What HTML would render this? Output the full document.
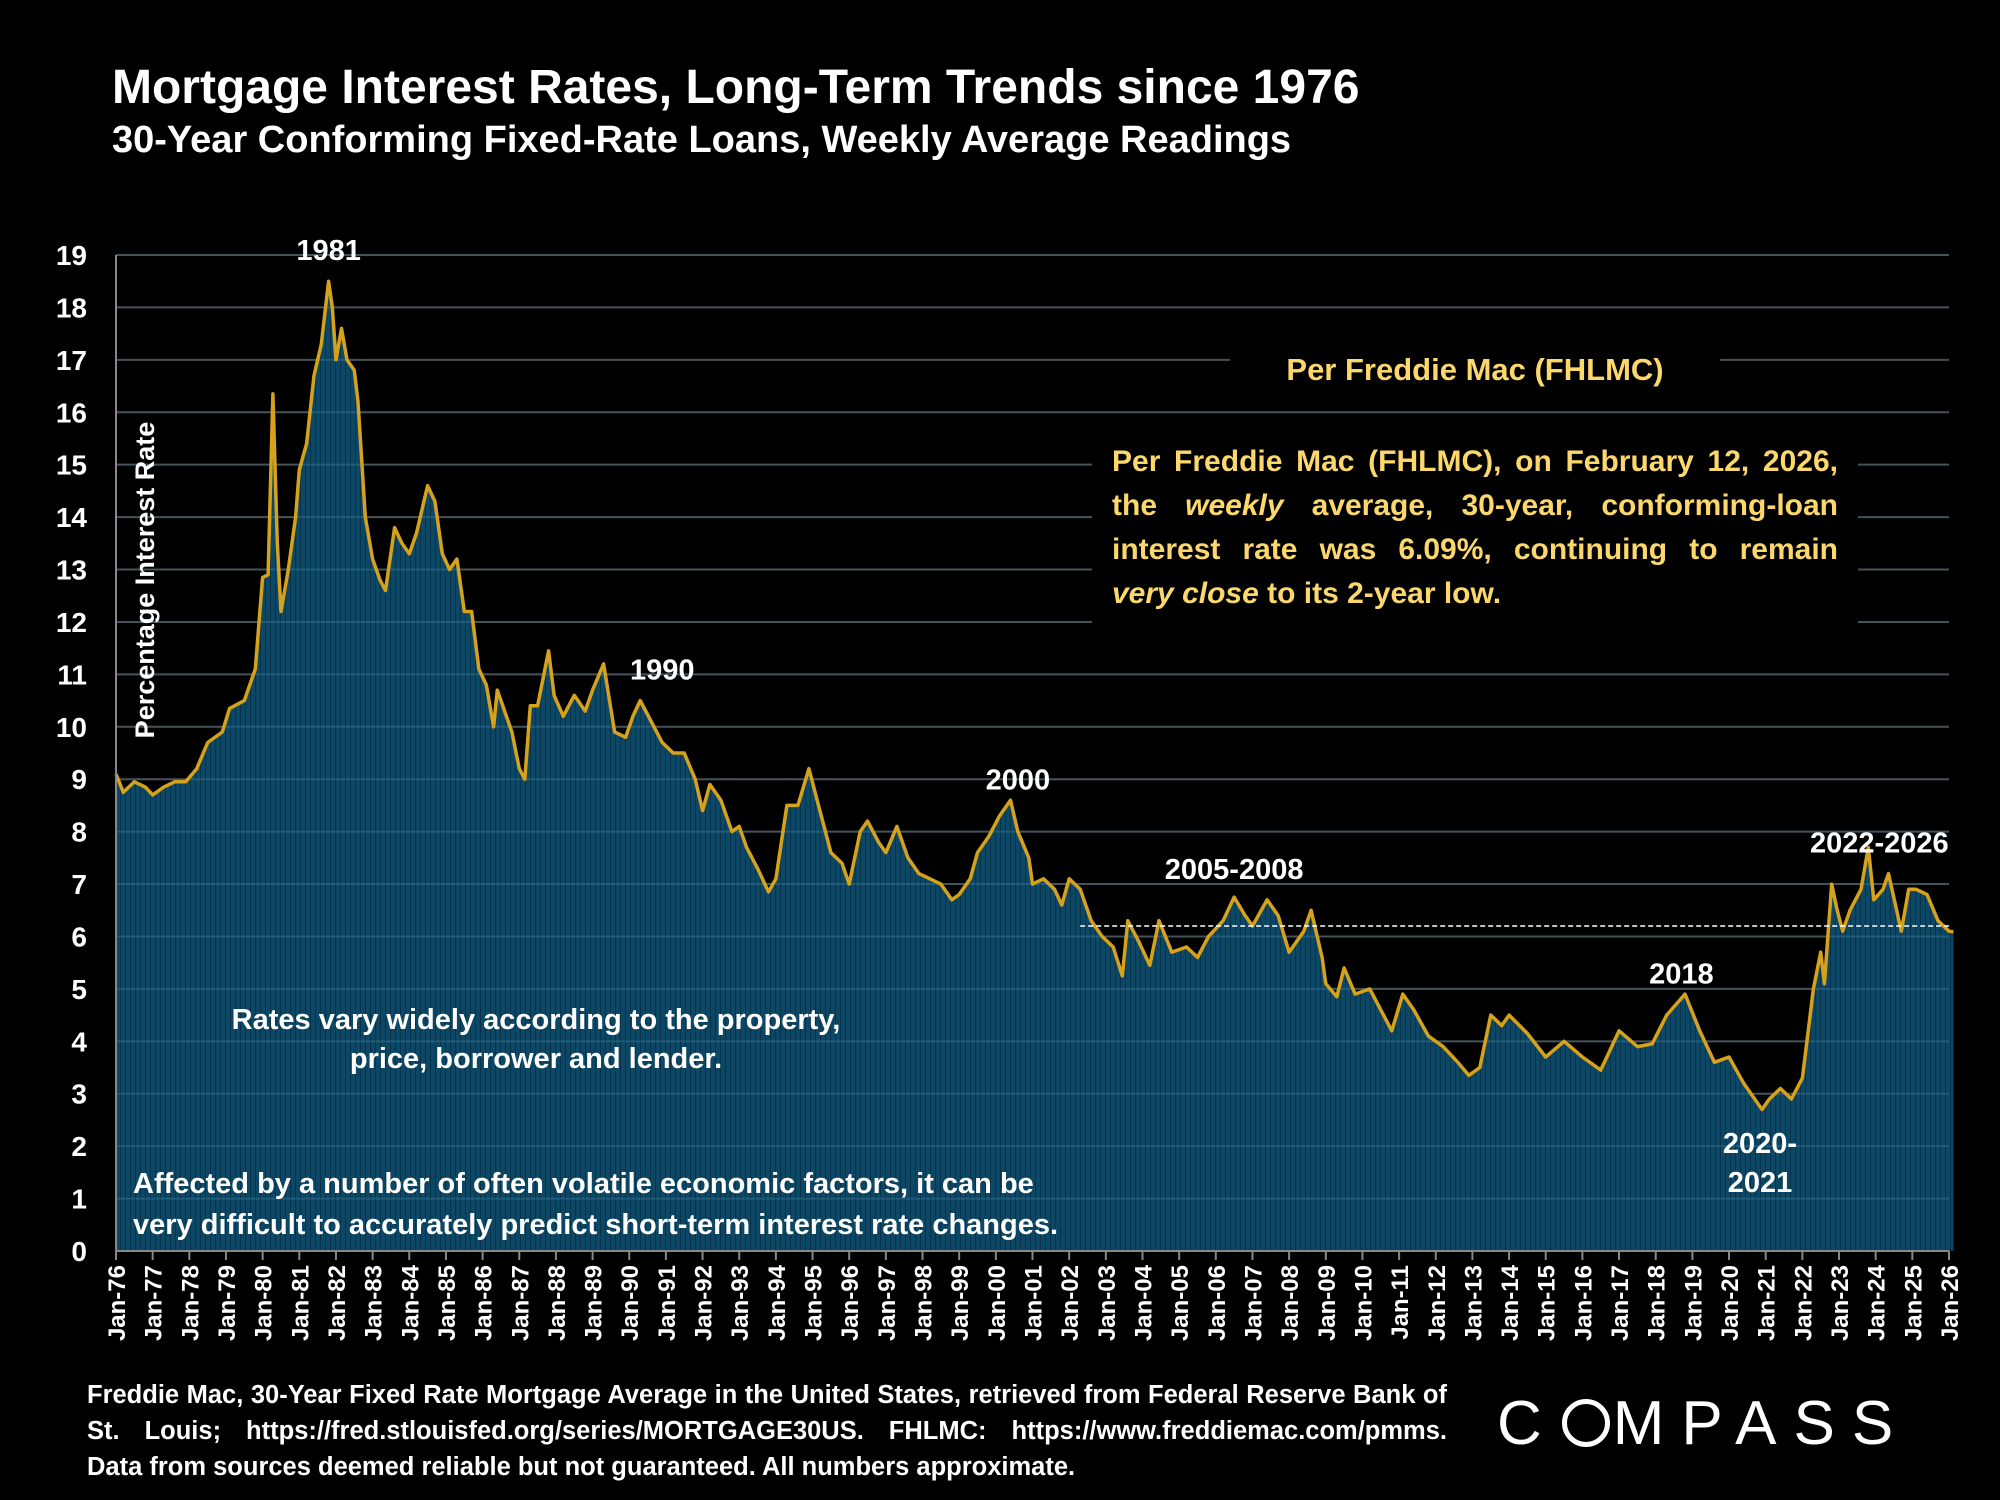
<!DOCTYPE html>
<html><head><meta charset="utf-8">
<style>
html,body{margin:0;padding:0;background:#000;}
body{width:2000px;height:1500px;overflow:hidden;position:relative;font-family:"Liberation Sans",sans-serif;}
.t{position:absolute;color:#fff;font-weight:bold;white-space:nowrap;}
.j{text-align:justify;text-align-last:justify;white-space:normal;}
#para{position:absolute;left:1112px;top:440px;width:726px;color:#fcd86c;font-weight:bold;font-size:30px;line-height:44px;}
#footer{position:absolute;left:87px;top:1377px;width:1360px;color:#fff;font-weight:bold;font-size:25.5px;line-height:36px;}
</style></head>
<body>
<div class="t" style="left:112px;top:60px;font-size:48px;">Mortgage Interest Rates, Long-Term Trends since 1976</div>
<div class="t" style="left:112px;top:119px;font-size:38px;">30-Year Conforming Fixed-Rate Loans, Weekly Average Readings</div>

<svg id="chart" width="2000" height="1500" style="position:absolute;left:0;top:0" xmlns="http://www.w3.org/2000/svg">
<defs>
<pattern id="stripes" width="5" height="10" patternUnits="userSpaceOnUse">
<rect width="5" height="10" fill="#0c4865"/>
<rect width="1" height="10" fill="#07324a"/>
</pattern>
</defs>
<g id="grid"></g>
<g id="area"></g>
<g id="grid2"></g>
<g id="axes"></g>
</svg>

<div style="position:absolute;left:1230px;top:345px;width:490px;height:55px;background:#000;"></div>
<div class="t" style="left:1250px;top:352px;width:450px;text-align:center;font-size:31px;color:#fcd86c;">Per Freddie Mac (FHLMC)</div>
<div style="position:absolute;left:1092px;top:430px;width:766px;height:195px;background:#000;"></div>
<div id="para">
<div class="j">Per Freddie Mac (FHLMC), on February 12, 2026,</div>
<div class="j">the <i>weekly</i> average, 30-year, conforming-loan</div>
<div class="j">interest rate was 6.09%, continuing to remain</div>
<div><i>very close</i> to its 2-year low.</div>
</div>

<div class="t" style="left:136px;top:1001px;width:800px;text-align:center;font-size:29px;line-height:39px;">Rates vary widely according to the property,<br>price, borrower and lender.</div>
<div class="t" style="left:133px;top:1164px;font-size:29px;line-height:41px;">Affected by a number of often volatile economic factors, it can be<br>very difficult to accurately predict short-term interest rate changes.</div>

<div id="footer">
<div class="j">Freddie Mac, 30-Year Fixed Rate Mortgage Average in the United States, retrieved from Federal Reserve Bank of</div>
<div class="j">St. Louis; https://fred.stlouisfed.org/series/MORTGAGE30US. FHLMC: https://www.freddiemac.com/pmms.</div>
<div>Data from sources deemed reliable but not guaranteed. All numbers approximate.</div>
</div>
<div class="t" style="left:1497px;top:1388px;font-size:62px;font-weight:normal;letter-spacing:17px;">C<span style="display:inline-block;width:48px;height:48px;border:5px solid #fff;border-radius:50%;box-sizing:border-box;position:relative;top:3px;margin:0 3px;"></span>MPASS</div>

<script>
const dates=[1976.0,1976.2,1976.5,1976.8,1977.0,1977.3,1977.6,1977.9,1978.2,1978.5,1978.9,1979.1,1979.5,1979.8,1980.0,1980.15,1980.28,1980.4,1980.5,1980.7,1980.9,1981.0,1981.2,1981.4,1981.6,1981.8,1981.9,1982.0,1982.15,1982.3,1982.5,1982.6,1982.8,1983.0,1983.2,1983.35,1983.6,1983.8,1984.0,1984.2,1984.5,1984.7,1984.9,1985.1,1985.3,1985.5,1985.7,1985.9,1986.1,1986.3,1986.4,1986.6,1986.8,1987.0,1987.15,1987.3,1987.5,1987.8,1987.95,1988.2,1988.5,1988.8,1989.0,1989.3,1989.6,1989.9,1990.1,1990.3,1990.6,1990.9,1991.2,1991.5,1991.8,1992.0,1992.2,1992.5,1992.8,1993.0,1993.2,1993.5,1993.8,1994.0,1994.3,1994.6,1994.9,1995.2,1995.5,1995.8,1996.0,1996.3,1996.5,1996.8,1997.0,1997.3,1997.6,1997.9,1998.2,1998.5,1998.8,1999.0,1999.3,1999.5,1999.8,2000.1,2000.4,2000.6,2000.9,2001.0,2001.3,2001.6,2001.8,2002.0,2002.3,2002.6,2002.9,2003.2,2003.45,2003.6,2003.9,2004.2,2004.45,2004.8,2005.2,2005.5,2005.8,2006.2,2006.5,2006.8,2007.0,2007.4,2007.7,2008.0,2008.4,2008.6,2008.9,2009.0,2009.3,2009.5,2009.8,2010.2,2010.5,2010.8,2011.1,2011.4,2011.8,2012.2,2012.6,2012.9,2013.2,2013.5,2013.8,2014.0,2014.5,2015.0,2015.5,2016.0,2016.5,2017.0,2017.5,2017.9,2018.3,2018.8,2019.2,2019.6,2020.0,2020.4,2020.9,2021.1,2021.4,2021.7,2022.0,2022.3,2022.5,2022.6,2022.8,2022.95,2023.1,2023.3,2023.6,2023.8,2023.95,2024.2,2024.35,2024.7,2024.9,2025.1,2025.4,2025.7,2026.0,2026.12];
const rates=[9.1,8.75,8.95,8.85,8.7,8.85,8.95,8.95,9.2,9.7,9.9,10.35,10.5,11.1,12.85,12.9,16.35,13.5,12.2,13.0,14.0,14.9,15.4,16.7,17.3,18.5,18.0,17.0,17.6,17.0,16.8,16.2,14.0,13.2,12.8,12.6,13.8,13.5,13.3,13.7,14.6,14.3,13.3,13.0,13.2,12.2,12.2,11.1,10.8,10.0,10.7,10.3,9.9,9.2,9.0,10.4,10.4,11.45,10.6,10.2,10.6,10.3,10.7,11.2,9.9,9.8,10.2,10.5,10.1,9.7,9.5,9.5,9.0,8.4,8.9,8.6,8.0,8.1,7.7,7.3,6.85,7.1,8.5,8.5,9.2,8.4,7.6,7.4,7.0,8.0,8.2,7.8,7.6,8.1,7.5,7.2,7.1,7.0,6.7,6.8,7.1,7.6,7.9,8.3,8.6,8.0,7.5,7.0,7.1,6.9,6.6,7.1,6.9,6.3,6.0,5.8,5.25,6.3,5.9,5.45,6.3,5.7,5.8,5.6,6.0,6.3,6.75,6.4,6.2,6.7,6.4,5.7,6.1,6.5,5.6,5.1,4.85,5.4,4.9,5.0,4.6,4.2,4.9,4.6,4.1,3.9,3.6,3.35,3.5,4.5,4.3,4.5,4.15,3.7,4.0,3.7,3.45,4.2,3.9,3.95,4.5,4.9,4.2,3.6,3.7,3.2,2.7,2.9,3.1,2.9,3.3,5.0,5.7,5.1,7.0,6.5,6.1,6.5,6.9,7.7,6.7,6.9,7.2,6.1,6.9,6.9,6.8,6.3,6.1,6.09];
const yTicks=[0,1,2,3,4,5,6,7,8,9,10,11,12,13,14,15,16,17,18,19];
const xTickYears=[];for(let y=1976;y<=2026;y++)xTickYears.push(y);
const annotations=[["1981",1981.8,18.9],["1990",1990.9,10.9],["2000",2000.6,8.8],["2005-2008",2006.5,7.1],["2018",2018.7,5.1],["2022-2026",2024.1,7.6]];
const refRate=6.2;
const refStart=2002.3;

const NS="http://www.w3.org/2000/svg";
const X0=116,X1=1949,Y0=1251,Y19=255;
const xs=y=>X0+(y-1976)/(2026-1976)*(X1-X0);
const ys=v=>Y0-v/19*(Y0-Y19);
function mk(tag,attrs,parent){const e=document.createElementNS(NS,tag);for(const k in attrs)e.setAttribute(k,attrs[k]);parent.appendChild(e);return e;}
const grid=document.getElementById('grid'),grid2=document.getElementById('grid2'),area=document.getElementById('area'),axes=document.getElementById('axes');

yTicks.forEach(v=>{
  if(v>0){const g=mk('line',{x1:X0,x2:X1,y1:ys(v),y2:ys(v),stroke:'#3a3a3a','stroke-width':2},grid);
  
  
  const g2=mk('line',{x1:X0,x2:X1,y1:ys(v),y2:ys(v),stroke:'#5fa0c0','stroke-opacity':0.25,'stroke-width':2},grid2);
  
  }
  const t=mk('text',{x:87,y:ys(v)+10,'text-anchor':'end',fill:'#fff','font-size':28,'font-weight':'bold','font-family':'Liberation Sans, sans-serif'},axes);
  t.textContent=v;
  
  
});

let d='M'+xs(dates[0])+','+Y0;
dates.forEach((dt,i)=>{d+=' L'+xs(dt).toFixed(1)+','+ys(rates[i]).toFixed(1);});
d+=' L'+xs(dates[dates.length-1])+','+Y0+' Z';
const ar=mk('path',{d:d,fill:'url(#stripes)'},area);


let ld='';
dates.forEach((dt,i)=>{ld+=(i?' L':'M')+xs(dt).toFixed(1)+','+ys(rates[i]).toFixed(1);});
const ln=mk('path',{d:ld,fill:'none',stroke:'#d6a21c','stroke-width':3.5,'stroke-linejoin':'round'},axes);



const ref=mk('line',{x1:xs(refStart),x2:X1,y1:ys(refRate),y2:ys(refRate),stroke:'#fff','stroke-width':1.5,'stroke-dasharray':'5,3'},axes);



const ax=mk('line',{x1:X0,x2:X0,y1:Y19,y2:Y0,stroke:'#888','stroke-width':2},axes);


const bx=mk('line',{x1:X0,x2:X1,y1:Y0,y2:Y0,stroke:'#888','stroke-width':2},axes);



xTickYears.forEach(y=>{
  const x=xs(y);
  const tk=mk('line',{x1:x,x2:x,y1:Y0,y2:Y0+9,stroke:'#888','stroke-width':2},axes);
  
  
  const t=mk('text',{x:0,y:0,'text-anchor':'end',fill:'#fff','font-size':24,'font-weight':'bold','font-family':'Liberation Sans, sans-serif',transform:'translate('+(x+9)+','+(Y0+14)+') rotate(-90)'},axes);
  t.textContent='Jan-'+String(y%100).padStart(2,'0');
  
  
});

annotations.forEach(a=>{
  const t=mk('text',{x:xs(a[1]),y:ys(a[2]),'text-anchor':'middle',fill:'#fff','font-size':29,'font-weight':'bold','font-family':'Liberation Sans, sans-serif'},axes);
  t.textContent=a[0];
  
  
});
const l1=mk('text',{x:1760,y:1153,'text-anchor':'middle',fill:'#fff','font-size':29,'font-weight':'bold','font-family':'Liberation Sans, sans-serif'},axes);
l1.textContent='2020-';


const l2=mk('text',{x:1760,y:1192,'text-anchor':'middle',fill:'#fff','font-size':29,'font-weight':'bold','font-family':'Liberation Sans, sans-serif'},axes);
l2.textContent='2021';



const yt=mk('text',{x:0,y:0,'text-anchor':'middle',fill:'#fff','font-size':27,'font-weight':'bold','font-family':'Liberation Sans, sans-serif',transform:'translate(154,580) rotate(-90)'},axes);
yt.textContent='Percentage Interest  Rate';


</script>
</body></html>
